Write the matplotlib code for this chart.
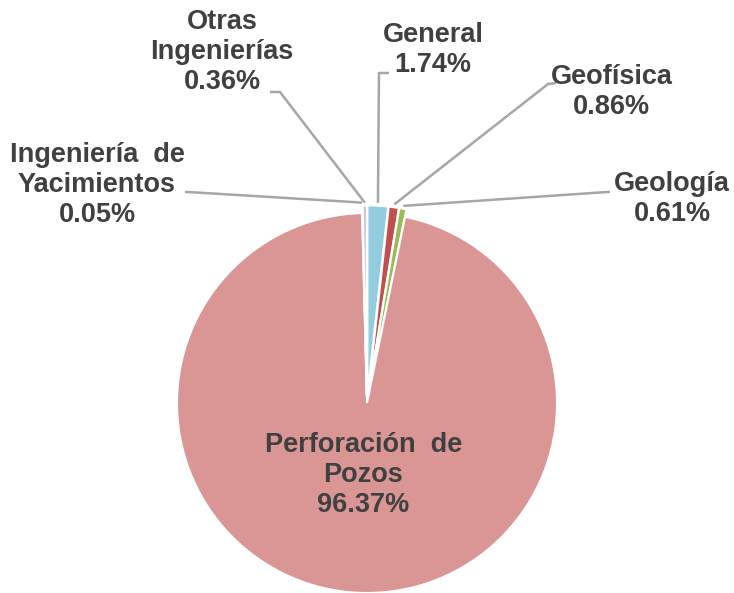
import matplotlib
matplotlib.use("Agg")
import numpy as np
import matplotlib.pyplot as plt

# --- datos ---
categorias = ["General", "Geofísica", "Geología", "Perforación  de\nPozos",
              "Ingeniería  de\nYacimientos", "Otras\nIngenierías"]
porcentajes = [1.74, 0.86, 0.61, 96.37, 0.05, 0.36]
colores = ["#93CDDD", "#C0504D", "#9BBB59", "#D99694", "#8064A2", "#CCC1DA"]

# posiciones de las etiquetas (unidades del radio) y codo de la línea guía
pos_etiqueta = [(0.347, 1.858), (1.289, 1.639), (1.605, 1.074), (-0.02, -0.379),
                (-1.421, 1.147), (-0.763, 1.847)]
pos_codo = [[(0.116, 1.737), (0.063, 1.737)],
            [(0.995, 1.684), (0.953, 1.679)],
            [(1.279, 1.111), (1.226, 1.108)],
            None,
            [(-0.958, 1.111), (-0.90, 1.108)],
            [(-0.511, 1.637), (-0.458, 1.637)]]

plt.rcParams['font.family'] = ['Liberation Sans', 'DejaVu Sans']
texto_color = "#404040"

fig = plt.figure(figsize=(7.34, 5.93), dpi=100)
ax = fig.add_axes([0, 0, 1, 1])

explode = [0.04 if p < 50 else 0.0 for p in porcentajes]
wedges, _ = ax.pie(porcentajes, colors=colores, startangle=90, counterclock=False,
                   explode=explode, wedgeprops=dict(edgecolor="white", linewidth=1.5))

for w, lab, p, (tx, ty), codo in zip(wedges, categorias, porcentajes, pos_etiqueta, pos_codo):
    txt = f"{lab}\n{p:.2f}%"
    ax.text(tx, ty, txt, ha="center", va="center", fontsize=19.5, fontweight="bold",
            color=texto_color, linespacing=1.2)
    if codo is None:
        continue
    ang = np.deg2rad((w.theta1 + w.theta2) / 2)
    cx, cy = w.center
    ax_x = cx + (w.r + 0.015) * np.cos(ang)
    ax_y = cy + (w.r + 0.015) * np.sin(ang)
    xs = [codo[0][0], codo[1][0], ax_x]
    ys = [codo[0][1], codo[1][1], ax_y]
    ax.plot(xs, ys, color="#A6A6A6", lw=1.8, solid_capstyle="butt")

ax.set_xlim(-367 / 190, (734 - 367) / 190)
ax.set_ylim(-(593 - 403) / 190, 403 / 190)
ax.axis("off")

fig.savefig("out.png", dpi=100, facecolor="white")
